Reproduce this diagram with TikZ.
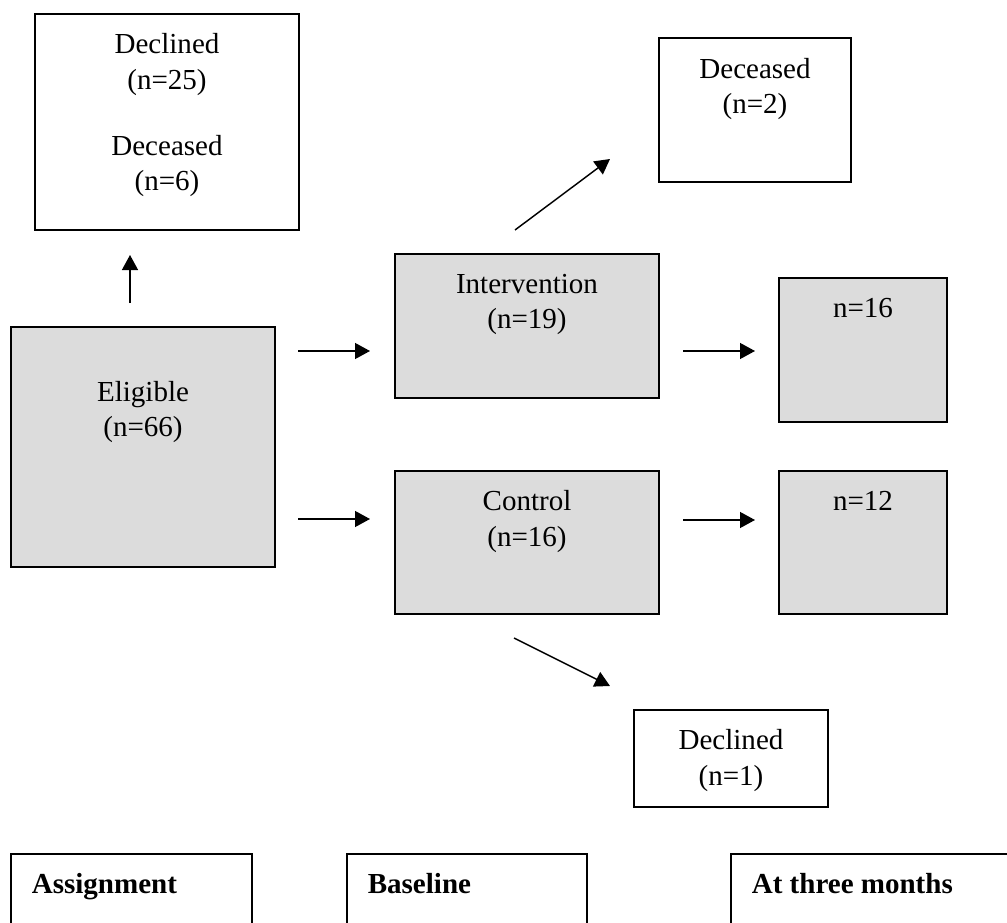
\documentclass[tikz,border=0pt]{standalone}
\usepackage{fontspec}
\setmainfont{Liberation Serif}
\usetikzlibrary{positioning,arrows.meta}
\definecolor{boxgrey}{RGB}{220,220,220}
\tikzset{
  box/.style={draw, line width=0.6pt, inner sep=0pt},
  greybox/.style={box, fill=boxgrey},
  lbl/.style={inner sep=0pt, align=center, font=\fontsize{12pt}{14.5pt}\selectfont},
  head/.style={inner sep=0pt, font=\fontsize{12pt}{14.5pt}\selectfont\bfseries},
  arr/.style={line width=0.6pt, -{Triangle[length=6.2pt,width=6.6pt]}}
}
\begin{document}
\begin{tikzpicture}[x=0.4133pt,y=-0.4133pt]
\useasboundingbox (0,0) rectangle (1007,923);
\clip (0,0) rectangle (1007,923);
% Assignment
\node[box, minimum width=109.1pt, minimum height=89.3pt] (out0) at (167,122) {};
\node[lbl, below=8.3pt of out0.north] {Declined\\(n=25)\\[13pt]Deceased\\(n=6)};
\node[greybox, minimum width=109.1pt, minimum height=99.2pt] (elig) at (143,447) {};
\node[lbl, below=22.7pt of elig.north] {Eligible\\(n=66)};
% Baseline
\node[greybox, minimum width=109.1pt, minimum height=59.5pt] (interv) at (527,326) {};
\node[lbl, below=8.3pt of interv.north] {Intervention\\(n=19)};
\node[greybox, minimum width=109.1pt, minimum height=59.1pt] (ctrl) at (527,542.5) {};
\node[lbl, below=8.3pt of ctrl.north] {Control\\(n=16)};
% At three months
\node[box, minimum width=79.4pt, minimum height=59.5pt] (dec2) at (755,110) {};
\node[lbl, below=8.3pt of dec2.north] {Deceased\\(n=2)};
\node[greybox, minimum width=69.4pt, minimum height=59.5pt] (interv3) at (863,350) {};
\node[lbl, below=8.3pt of interv3.north] {n=16};
\node[greybox, minimum width=69.4pt, minimum height=59.1pt] (ctrl3) at (863,542.5) {};
\node[lbl, below=8.3pt of ctrl3.north] {n=12};
\node[box, minimum width=80.2pt, minimum height=40.1pt] (decl1) at (731,758.5) {};
\node[lbl, below=8.3pt of decl1.north] {Declined\\(n=1)};
% arrows
\coordinate (a0) at (130,303); \coordinate (a1) at (130,255);
\coordinate (b0) at (298,351); \coordinate (b1) at (370,351);
\coordinate (c0) at (298,519); \coordinate (c1) at (370,519);
\coordinate (d0) at (515,230); \coordinate (d1) at (610,159);
\coordinate (e0) at (683,351); \coordinate (e1) at (755,351);
\coordinate (f0) at (683,520); \coordinate (f1) at (755,520);
\coordinate (g0) at (514,638); \coordinate (g1) at (610,686);
\draw[arr] (a0) -- (a1);
\draw[arr] (b0) -- (b1); \draw[arr] (c0) -- (c1);
\draw[arr] (d0) -- (d1);
\draw[arr] (e0) -- (e1); \draw[arr] (f0) -- (f1);
\draw[arr] (g0) -- (g1);
% time line
\node[box, minimum width=99.6pt, minimum height=49.6pt] (asg) at (131.5,914) {};
\node[head, below right=7.9pt and 8.7pt of asg.north west] {Assignment};
\node[box, minimum width=99.2pt, minimum height=49.6pt] (base) at (467,914) {};
\node[head, below right=7.9pt and 8.7pt of base.north west] {Baseline};
\node[box, minimum width=124pt, minimum height=49.6pt] (three) at (881,914) {};
\node[head, below right=7.9pt and 8.7pt of three.north west] {At three months};
\end{tikzpicture}
\end{document}
